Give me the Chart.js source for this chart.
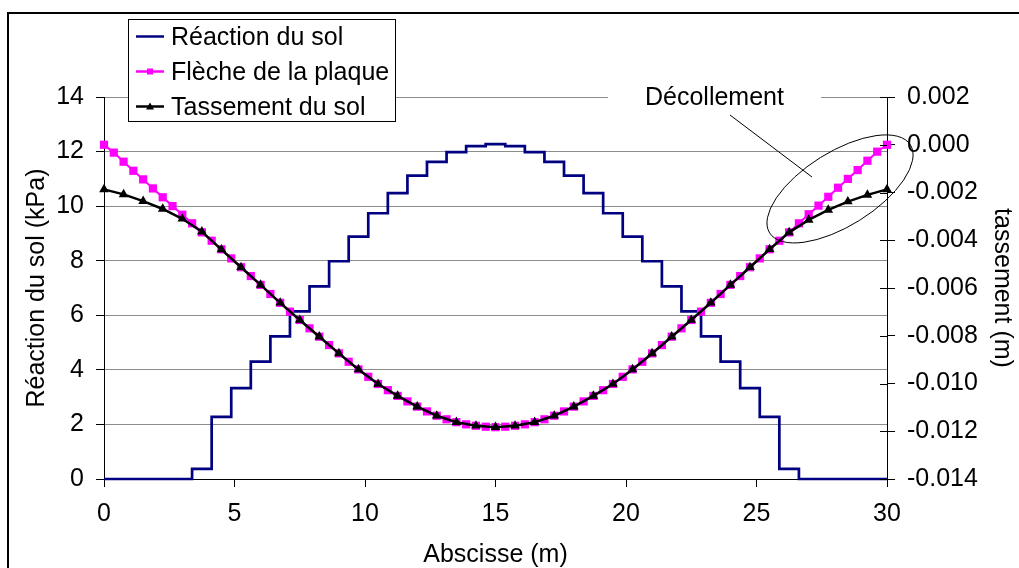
<!DOCTYPE html>
<html lang="fr">
<head>
<meta charset="utf-8">
<title>Réaction du sol</title>
<script src="https://cdn.jsdelivr.net/npm/chart.js"></script>
<style>
  body { margin: 0; background: #fff; }
  canvas { display: block; }
</style>
</head>
<body>
<canvas id="graphique" width="1019" height="568"></canvas>
<script>
// Abscisses (m)
const abscisseNoeuds = [0, 0.75, 1.5, 2.25, 3, 3.75, 4.5, 5.25, 6, 6.75,
    7.5, 8.25, 9, 9.75, 10.5, 11.25, 12, 12.75, 13.5, 14.25,
    15, 15.75, 16.5, 17.25, 18, 18.75, 19.5, 20.25, 21, 21.75,
    22.5, 23.25, 24, 24.75, 25.5, 26.25, 27, 27.75, 28.5, 29.25, 30];

const abscisseFleche = [0, 0.375, 0.75, 1.125, 1.5, 1.875, 2.25, 2.625, 3, 3.375,
    3.75, 4.125, 4.5, 4.875, 5.25, 5.625, 6, 6.375, 6.75, 7.125,
    7.5, 7.875, 8.25, 8.625, 9, 9.375, 9.75, 10.125, 10.5, 10.875,
    11.25, 11.625, 12, 12.375, 12.75, 13.125, 13.5, 13.875, 14.25, 14.625,
    15, 15.375, 15.75, 16.125, 16.5, 16.875, 17.25, 17.625, 18, 18.375,
    18.75, 19.125, 19.5, 19.875, 20.25, 20.625, 21, 21.375, 21.75, 22.125,
    22.5, 22.875, 23.25, 23.625, 24, 24.375, 24.75, 25.125, 25.5, 25.875,
    26.25, 26.625, 27, 27.375, 27.75, 28.125, 28.5, 28.875, 29.25, 29.625, 30];

// Réaction du sol (kPa), une valeur par noeud
const reactionSol = [0, 0, 0, 0, 0, 0.37, 2.28, 3.33, 4.30, 5.23,
    6.14, 7.06, 7.98, 8.88, 9.74, 10.48, 11.12, 11.62, 11.98, 12.20,
    12.27, 12.20, 11.98, 11.62, 11.12, 10.48, 9.74, 8.88, 7.98, 7.06,
    6.14, 5.23, 4.30, 3.33, 2.28, 0.37, 0, 0, 0, 0, 0];

// Flèche de la plaque (m)
const flecheePlaque = [0, -0.00033, -0.00071, -0.00109, -0.00145, -0.00183, -0.00220, -0.00257, -0.00293, -0.00329,
    -0.00367, -0.00402, -0.00438, -0.00476, -0.00513, -0.00550, -0.00587, -0.00625, -0.00662, -0.00699,
    -0.00734, -0.00769, -0.00804, -0.00839, -0.00874, -0.00909, -0.00941, -0.00972, -0.01002, -0.01028,
    -0.01052, -0.01075, -0.01097, -0.01117, -0.01135, -0.01150, -0.01162, -0.01171, -0.01177, -0.01181,
    -0.01183, -0.01181, -0.01177, -0.01171, -0.01162, -0.01150, -0.01135, -0.01117, -0.01097, -0.01075,
    -0.01052, -0.01028, -0.01002, -0.00972, -0.00941, -0.00909, -0.00874, -0.00839, -0.00804, -0.00769,
    -0.00734, -0.00699, -0.00662, -0.00625, -0.00587, -0.00550, -0.00513, -0.00476, -0.00438, -0.00402,
    -0.00367, -0.00329, -0.00291, -0.00255, -0.00218, -0.00180, -0.00143, -0.00106, -0.00067, -0.00029, 0];

// Tassement du sol (m)
const tassementSol = [-0.00187, -0.00208, -0.00236, -0.00269, -0.00310, -0.00364, -0.00439, -0.00513, -0.00587, -0.00662,
    -0.00734, -0.00804, -0.00874, -0.00941, -0.01002, -0.01052, -0.01097, -0.01135, -0.01162, -0.01177,
    -0.01183, -0.01177, -0.01162, -0.01135, -0.01097, -0.01052, -0.01002, -0.00941, -0.00874, -0.00804,
    -0.00734, -0.00662, -0.00587, -0.00513, -0.00438, -0.00367, -0.00315, -0.00273, -0.00238, -0.00210, -0.00187];

const policeTexte = 'Liberation Sans, Arial, sans-serif';

// annotations, légende et cadre dessinés à la main
const habillage = {
    id: 'habillage',
    afterDraw(chart) {
        const ctx = chart.ctx;
        const xs = chart.scales.x;
        const yd = chart.scales.y1;
        ctx.save();
        ctx.strokeStyle = '#000';
        ctx.lineWidth = 1;

        // petits traits intérieurs de l'axe de droite
        yd.ticks.forEach(t => {
            const py = Math.round(yd.getPixelForValue(t.value)) + 0.5;
            ctx.beginPath();
            ctx.moveTo(yd.left - 7, py);
            ctx.lineTo(yd.left, py);
            ctx.stroke();
        });

        // Décollement
        ctx.fillStyle = '#fff';
        ctx.fillRect(608, 86, 213, 22);
        ctx.fillStyle = '#000';
        ctx.font = '25px ' + policeTexte;
        ctx.textBaseline = 'alphabetic';
        ctx.textAlign = 'left';
        ctx.fillText('Décollement', 645, 105);
        ctx.beginPath();
        ctx.moveTo(730, 115);
        ctx.lineTo(812, 177);
        ctx.stroke();
        ctx.beginPath();
        ctx.ellipse(xs.getPixelForValue(28.2), yd.getPixelForValue(-0.00185), 83, 37,
            -32 * Math.PI / 180, 0, 2 * Math.PI);
        ctx.stroke();

        // légende
        ctx.fillStyle = '#fff';
        ctx.fillRect(128.5, 19.5, 267, 102);
        ctx.strokeRect(128.5, 19.5, 267, 102);
        const entrees = [
            { texte: 'Réaction du sol', couleur: '#000080', marque: null },
            { texte: 'Flèche de la plaque', couleur: '#ff00ff', marque: 'carre' },
            { texte: 'Tassement du sol', couleur: '#000', marque: 'triangle' }
        ];
        entrees.forEach((e, i) => {
            const base = 45 + i * 35;
            const ym = base - 8.5;
            ctx.strokeStyle = e.couleur;
            ctx.lineWidth = 2.5;
            ctx.beginPath();
            ctx.moveTo(136, ym);
            ctx.lineTo(164, ym);
            ctx.stroke();
            ctx.fillStyle = e.couleur;
            if (e.marque === 'carre') {
                ctx.fillRect(147, ym - 3, 6, 6);
            } else if (e.marque === 'triangle') {
                ctx.beginPath();
                ctx.moveTo(150, ym - 4);
                ctx.lineTo(154, ym + 3);
                ctx.lineTo(146, ym + 3);
                ctx.closePath();
                ctx.fill();
            }
            ctx.fillStyle = '#000';
            ctx.fillText(e.texte, 171, base);
        });

        // cadre extérieur
        ctx.strokeStyle = '#000';
        ctx.lineWidth = 2;
        ctx.strokeRect(8, 13, 1100, 1000);
        ctx.restore();
    }
};

window.addEventListener('DOMContentLoaded', function () {
    Chart.defaults.font.family = policeTexte;
    Chart.defaults.font.size = 25;
    Chart.defaults.color = '#000';

    const ctx = document.getElementById('graphique').getContext('2d');
    new Chart(ctx, {
        type: 'line',
        data: {
            datasets: [{
                label: 'Réaction du sol',
                data: abscisseNoeuds.map((x, i) => ({ x: x, y: reactionSol[i] })),
                yAxisID: 'y',
                stepped: 'middle',
                borderColor: '#000080',
                borderWidth: 2.7,
                pointRadius: 0,
                order: 3,
                clip: false
            }, {
                label: 'Flèche de la plaque',
                data: abscisseFleche.map((x, i) => ({ x: x, y: flecheePlaque[i] })),
                yAxisID: 'y1',
                borderColor: '#ff00ff',
                borderWidth: 2,
                pointStyle: 'rect',
                pointRadius: 5.8,
                pointBackgroundColor: '#ff00ff',
                pointBorderWidth: 0,
                order: 2,
                clip: false
            }, {
                label: 'Tassement du sol',
                data: abscisseNoeuds.map((x, i) => ({ x: x, y: tassementSol[i] })),
                yAxisID: 'y1',
                borderColor: '#000',
                borderWidth: 2.5,
                pointStyle: 'triangle',
                pointRadius: 5.6,
                pointBackgroundColor: '#000',
                pointBorderWidth: 0,
                order: 1,
                clip: false
            }]
        },
        options: {
            responsive: false,
            animation: false,
            devicePixelRatio: 1,
            layout: { padding: { top: 97, left: 0, right: 0, bottom: 0 }, autoPadding: false },
            plugins: {
                legend: { display: false },
                tooltip: { enabled: false }
            },
            scales: {
                x: {
                    type: 'linear',
                    min: 0,
                    max: 30,
                    ticks: { stepSize: 5, padding: 12 },
                    grid: { drawOnChartArea: false, tickLength: 8, tickColor: '#000' },
                    border: { color: '#000', width: 1 },
                    title: { display: true, text: 'Abscisse (m)', font: { size: 25, lineHeight: 1 }, padding: { top: 0, bottom: 0 } },
                    afterFit: s => { s.height = 89; }
                },
                y: {
                    position: 'left',
                    min: 0,
                    max: 14,
                    ticks: { stepSize: 2, padding: 12 },
                    grid: { color: '#8c8c8c', lineWidth: 1, tickLength: 8, tickColor: '#000' },
                    border: { color: '#000', width: 1 },
                    title: { display: true, text: 'Réaction du sol (kPa)', font: { size: 25, lineHeight: 1 }, padding: { top: 24.5, bottom: 0 } },
                    afterFit: s => { s.width = 104; }
                },
                y1: {
                    position: 'right',
                    min: -0.014,
                    max: 0.002,
                    ticks: { stepSize: 0.002, padding: 12, callback: v => v.toFixed(3) },
                    grid: { drawOnChartArea: false, tickLength: 8, tickColor: '#000' },
                    border: { color: '#000', width: 1 },
                    title: { display: true, text: 'tassement (m)', font: { size: 25, lineHeight: 1 }, padding: { top: 5, bottom: 0 } },
                    afterFit: s => { s.width = 132; }
                }
            }
        },
        plugins: [habillage]
    });
});
</script>
</body>
</html>
